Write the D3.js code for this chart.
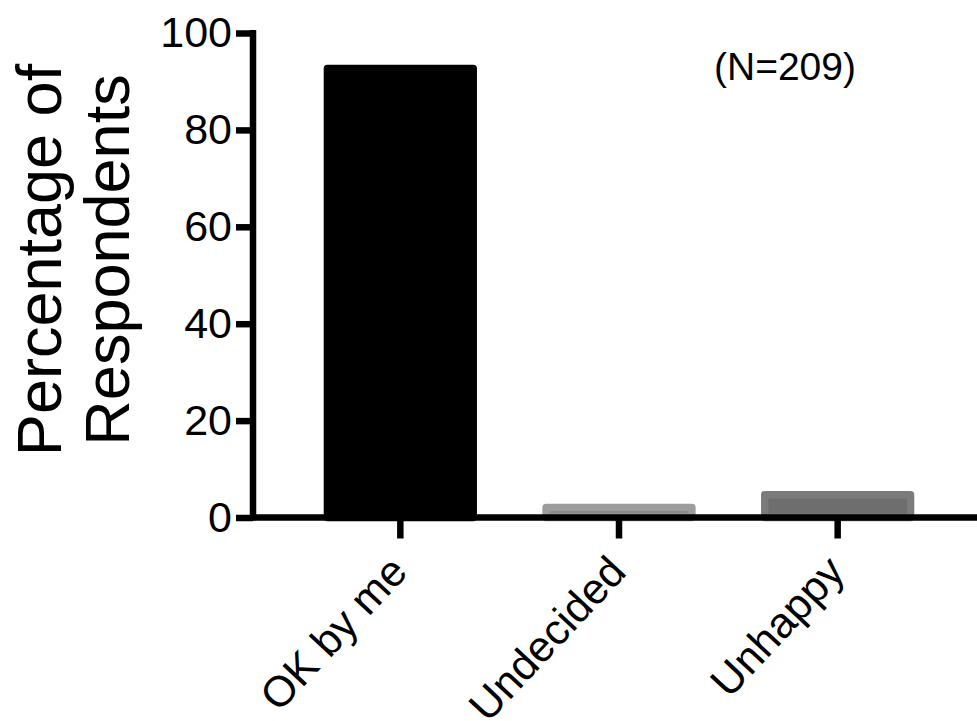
<!DOCTYPE html>
<html>
<head>
<meta charset="utf-8">
<script src="https://cdn.jsdelivr.net/npm/d3@7"></script>
<style>
  html, body { margin: 0; padding: 0; background: #fff; }
  svg { display: block; font-family: "Liberation Sans", Arial, Helvetica, sans-serif; }
</style>
</head>
<body>
<svg id="chart" width="977" height="721"></svg>
<script>
const categories = ["OK by me", "Undecided", "Unhappy"];
const values = [92.7, 2.1, 4.7];
const yTicks = [0, 20, 40, 60, 80, 100];
const annotation = "(N=209)";
const yTitleLines = ["Percentage of", "Respondents"];

const fillColors = ["#000000", "#8c8c8c", "#6e6e6e"];
const strokeColors = ["#000000", "#9c9c9c", "#7b7b7b"];

const svg = d3.select("#chart");
const W = 977, H = 721;

const y = d3.scaleLinear().domain([0, 100]).range([517.5, 33]);
const x = d3.scaleBand().domain(categories).range([291, 947])
  .paddingInner(0.333).paddingOuter(0.1665);
const fill = d3.scaleOrdinal().domain(categories).range(fillColors);
const stroke = d3.scaleOrdinal().domain(categories).range(strokeColors);

const axisX = 253;
const sw = 7.4;

// bars
svg.append("g").selectAll("rect")
  .data(categories.map((c, i) => ({ c, v: values[i] })))
  .join("rect")
  .attr("x", d => x(d.c))
  .attr("width", x.bandwidth())
  .attr("y", d => y(d.v))
  .attr("height", d => y(0) - y(d.v))
  .attr("fill", d => fill(d.c))
  .attr("stroke", d => stroke(d.c))
  .attr("stroke-width", sw)
  .attr("stroke-linejoin", "round");

// y axis
const gy = svg.append("g")
  .attr("transform", `translate(${axisX},0)`)
  .call(d3.axisLeft(y).tickValues(yTicks).tickSize(17).tickPadding(4).tickFormat(d3.format("d")));
gy.select(".domain").remove();
gy.selectAll(".tick line").attr("stroke", "#000").attr("stroke-width", 6.5);
gy.selectAll(".tick text")
  .attr("font-size", 43)
  .attr("font-family", "Liberation Sans, Arial, sans-serif")
  .attr("fill", "#000");
svg.append("line")
  .attr("x1", axisX).attr("x2", axisX)
  .attr("y1", 30).attr("y2", y(0) + 3)
  .attr("stroke", "#000").attr("stroke-width", 6.5);

// x axis
const gx = svg.append("g")
  .attr("transform", `translate(0,${y(0)})`)
  .call(d3.axisBottom(x).tickSize(21).tickFormat(""));
gx.select(".domain").remove();
gx.selectAll(".tick line").attr("stroke", "#000").attr("stroke-width", 6.5);
svg.append("line")
  .attr("x1", axisX - 3).attr("x2", W)
  .attr("y1", y(0)).attr("y2", y(0))
  .attr("stroke", "#000").attr("stroke-width", 6.5);

// x category labels
svg.append("g").selectAll("text")
  .data(categories)
  .join("text")
  .attr("transform", d => `translate(${x(d) + x.bandwidth() / 2 + 9},${y(0) + 56}) rotate(-47)`)
  .attr("text-anchor", "end")
  .attr("font-size", 43)
  .attr("fill", "#000")
  .text(d => d);

// y title
const yt = svg.append("text")
  .attr("transform", "translate(61,260) rotate(-90)")
  .attr("text-anchor", "middle")
  .attr("font-size", 63)
  .attr("fill", "#000");
yTitleLines.forEach((t, i) => {
  yt.append("tspan").attr("x", 0).attr("y", i * 68).text(t);
});

// annotation
svg.append("text")
  .attr("x", 785).attr("y", 80)
  .attr("text-anchor", "middle")
  .attr("font-size", 39)
  .attr("fill", "#000")
  .text(annotation);
</script>
</body>
</html>
